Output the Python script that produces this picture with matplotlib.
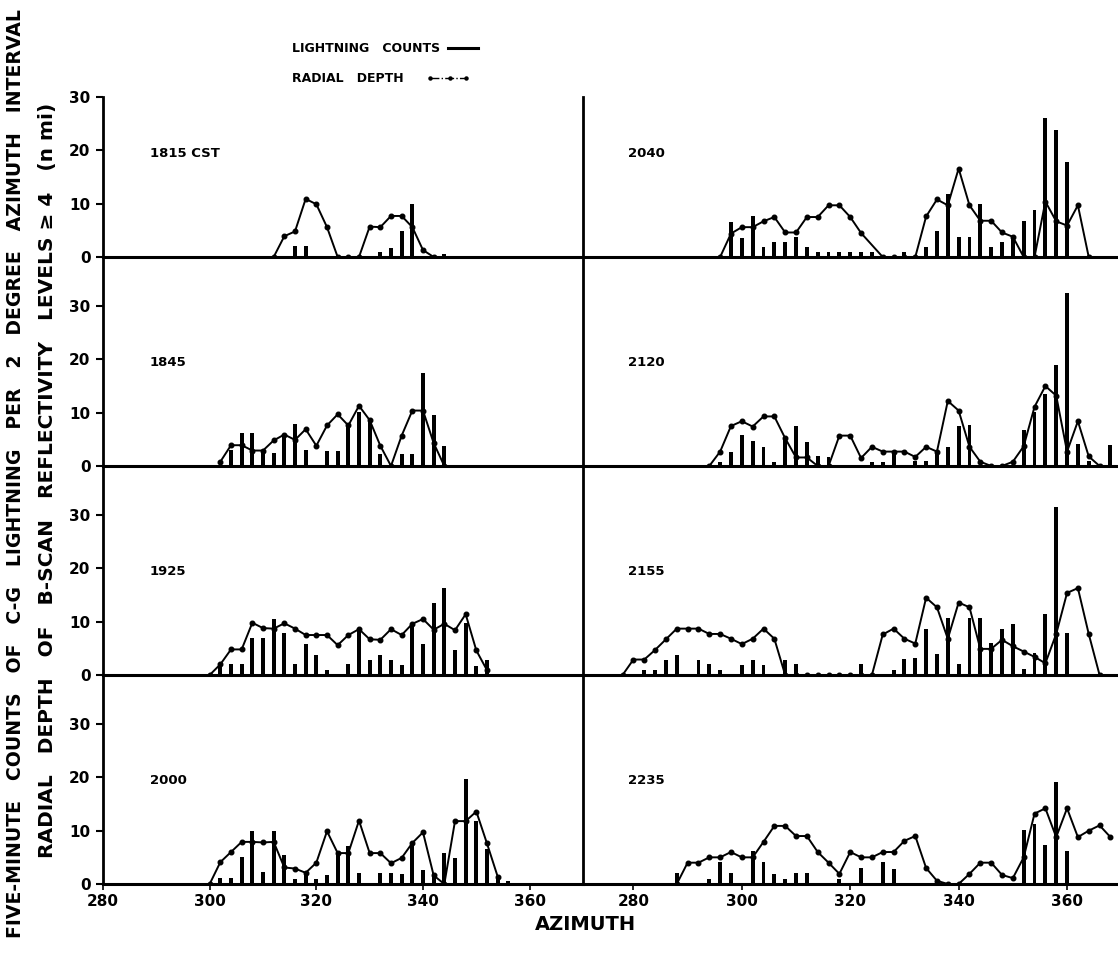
import matplotlib
matplotlib.use("Agg")
import matplotlib.pyplot as plt
from matplotlib.lines import Line2D

# ---- data (azimuth in degrees, depth in n mi, counts per 5 min) ----
# left column
depth_az_1815 = [312, 314, 316, 318, 320, 322, 324, 326, 328, 330, 332, 334, 336, 338, 340, 342]
depth_1815 = [0, 3.9, 4.8, 10.9, 9.9, 5.6, 0, 0, 0, 5.7, 5.6, 7.7, 7.7, 5.6, 1.3, 0]
bar_az_1815 = [316, 318, 332, 334, 336, 338, 344]
bar_1815 = [2.0, 2.0, 0.9, 1.7, 4.8, 10.0, 0.6]

depth_az_1845 = [302, 304, 306, 308, 310, 312, 314, 316, 318, 320, 322, 324, 326, 328, 330,
                 332, 334, 336, 338, 340, 342, 344]
depth_1845 = [0.8, 3.9, 3.9, 2.9, 2.9, 4.8, 5.9, 4.9, 6.9, 3.8, 7.6, 9.7, 7.6, 11.3, 8.6,
              3.8, 0, 5.7, 10.4, 10.4, 4.3, 0]
bar_az_1845 = [304, 306, 308, 310, 312, 314, 316, 318, 322, 324, 326, 328, 330, 332, 336,
               338, 340, 342, 344]
bar_1845 = [3.0, 6.1, 6.1, 2.8, 2.4, 5.8, 7.8, 3.0, 2.9, 2.9, 7.9, 10.2, 9.0, 2.2, 2.2,
            2.2, 17.4, 9.5, 3.8]

depth_az_1925 = [300, 302, 304, 306, 308, 310, 312, 314, 316, 318, 320, 322, 324, 326,
                 328, 330, 332, 334, 336, 338, 340, 342, 344, 346, 348, 350, 352]
depth_1925 = [0, 2.0, 4.8, 4.8, 9.8, 8.8, 8.7, 9.7, 8.7, 7.5, 7.5, 7.5, 5.6, 7.5,
              8.6, 6.7, 6.6, 8.6, 7.5, 9.6, 10.5, 8.5, 9.6, 8.4, 11.4, 4.6, 0.9]
bar_az_1925 = [302, 304, 306, 308, 310, 312, 314, 316, 318, 320, 322, 326, 328, 330,
               332, 334, 336, 338, 340, 342, 344, 346, 348, 350, 352]
bar_1925 = [2.1, 2.1, 2.1, 6.9, 6.9, 10.6, 7.9, 2.1, 5.8, 3.8, 0.9, 2.1, 8.4, 2.8,
            3.8, 2.8, 1.9, 9.7, 5.8, 13.6, 16.4, 4.7, 9.7, 1.7, 2.9]

depth_az_2000 = [300, 302, 304, 306, 308, 310, 312, 314, 316, 318, 320, 322, 324, 326,
                 328, 330, 332, 334, 336, 338, 340, 342, 344, 346, 348, 350, 352, 354]
depth_2000 = [0, 4.1, 6.0, 7.9, 7.9, 7.8, 7.9, 3.1, 2.9, 2.1, 4.0, 9.9, 5.8, 5.8,
              11.9, 5.8, 5.8, 3.9, 4.9, 7.7, 9.7, 1.6, 0, 11.8, 11.8, 13.6, 7.6, 1.4]
bar_az_2000 = [302, 304, 306, 308, 310, 312, 314, 316, 318, 320, 322, 324, 326, 328,
               332, 334, 336, 338, 340, 342, 344, 346, 348, 350, 352, 354, 356]
bar_2000 = [1.1, 1.1, 5.0, 10.0, 2.2, 9.9, 5.4, 0.9, 2.1, 0.9, 1.7, 5.8, 7.1, 2.0,
            2.0, 2.0, 1.9, 7.1, 2.7, 2.0, 5.8, 4.9, 19.7, 11.9, 6.5, 1.3, 0.6]

# right column
depth_az_2040 = [296, 298, 300, 302, 304, 306, 308, 310, 312, 314, 316, 318, 320, 322,
                 326, 328, 330, 332, 334, 336, 338, 340, 342, 344, 346, 348, 350, 352,
                 354, 356, 358, 360, 362, 364]
depth_2040 = [0, 4.4, 5.6, 5.6, 6.7, 7.5, 4.6, 4.6, 7.5, 7.5, 9.7, 9.7, 7.5, 4.5,
              0, 0, 0, 0, 7.6, 10.8, 9.7, 16.6, 9.7, 6.8, 6.8, 4.6, 3.8, 0,
              0, 10.4, 6.7, 5.9, 9.7, 0]
bar_az_2040 = [298, 300, 302, 304, 306, 308, 310, 312, 314, 316, 318, 320, 322, 324,
               330, 334, 336, 338, 340, 342, 344, 346, 348, 350, 352, 354, 356, 358, 360]
bar_2040 = [6.6, 3.5, 7.7, 1.8, 2.8, 2.8, 3.7, 1.8, 0.9, 0.9, 0.9, 0.9, 0.9, 0.9,
            0.9, 1.8, 4.8, 11.8, 3.8, 3.8, 10.0, 1.8, 2.8, 3.5, 6.8, 8.8, 26.0, 23.9, 17.8]

depth_az_2120 = [294, 296, 298, 300, 302, 304, 306, 308, 310, 312, 314, 316, 318, 320,
                 322, 324, 326, 328, 330, 332, 334, 336, 338, 340, 342, 344, 346, 348,
                 350, 352, 354, 356, 358, 360, 362, 364, 366]
depth_2120 = [0, 2.7, 7.5, 8.4, 7.4, 9.3, 9.3, 5.2, 1.6, 1.6, 0, 0, 5.7, 5.7,
              1.5, 3.6, 2.7, 2.7, 2.7, 1.7, 3.6, 2.7, 12.2, 10.4, 3.6, 0.8, 0, 0,
              0.8, 3.7, 11.1, 15.0, 13.2, 2.7, 8.4, 1.8, 0]
bar_az_2120 = [296, 298, 300, 302, 304, 306, 308, 310, 312, 314, 316, 324, 326, 328,
               332, 334, 336, 338, 340, 342, 352, 354, 356, 358, 360, 362, 364, 368]
bar_2120 = [0.8, 2.7, 5.9, 4.7, 3.6, 0.8, 5.2, 7.5, 4.5, 1.9, 1.6, 0.8, 0.8, 2.7,
            1.0, 1.0, 2.7, 3.6, 7.5, 7.7, 6.7, 10.1, 13.6, 18.9, 32.4, 4.1, 1.0, 3.9]

depth_az_2155 = [278, 280, 282, 284, 286, 288, 290, 292, 294, 296, 298, 300, 302, 304,
                 306, 308, 310, 312, 314, 316, 318, 320, 322, 324, 326, 328, 330, 332,
                 334, 336, 338, 340, 342, 344, 346, 348, 350, 352, 354, 356, 358, 360,
                 362, 364, 366]
depth_2155 = [0, 2.9, 2.9, 4.7, 6.7, 8.7, 8.7, 8.7, 7.7, 7.7, 6.8, 5.8, 6.8, 8.7,
              6.8, 0, 0, 0, 0, 0, 0, 0, 0, 0, 7.6, 8.7, 6.8, 5.9,
              14.5, 12.7, 6.8, 13.6, 12.7, 4.9, 4.9, 6.6, 5.4, 4.4, 3.4, 2.2, 7.7, 15.4,
              16.3, 7.7, 0]
bar_az_2155 = [282, 284, 286, 288, 292, 294, 296, 300, 302, 304, 308, 310, 322, 328,
               330, 332, 334, 336, 338, 340, 342, 344, 346, 348, 350, 352, 354, 356, 358, 360]
bar_2155 = [0.9, 0.9, 2.9, 3.8, 2.9, 2.0, 0.9, 1.8, 2.9, 1.8, 2.9, 2.0, 2.0, 1.0,
            3.0, 3.2, 8.7, 4.0, 10.7, 2.1, 10.7, 10.7, 6.0, 8.7, 9.6, 1.2, 4.1, 11.5, 31.6, 7.8]

depth_az_2235 = [288, 290, 292, 294, 296, 298, 300, 302, 304, 306, 308, 310, 312, 314,
                 316, 318, 320, 322, 324, 326, 328, 330, 332, 334, 336, 338, 340, 342,
                 344, 346, 348, 350, 352, 354, 356, 358, 360, 362, 364, 366, 368]
depth_2235 = [0, 4.0, 4.0, 5.0, 5.0, 6.0, 5.0, 5.0, 7.9, 10.9, 10.9, 9.0, 9.0, 6.0,
              4.0, 1.9, 6.0, 5.0, 5.0, 6.0, 6.0, 8.1, 9.0, 3.0, 0.6, 0, 0, 1.9,
              4.0, 4.0, 1.7, 1.1, 5.0, 13.2, 14.2, 8.8, 14.2, 8.8, 10.0, 11.0, 8.8]
bar_az_2235 = [288, 294, 296, 298, 302, 304, 306, 308, 310, 312, 318, 322, 326, 328,
               352, 354, 356, 358, 360]
bar_2235 = [2.1, 1.0, 4.1, 2.1, 6.1, 4.1, 1.9, 1.0, 2.1, 2.1, 1.0, 3.0, 4.1, 2.9,
            10.1, 11.2, 7.3, 19.2, 6.1]

left_labels = ["1815 CST", "1845", "1925", "2000"]
right_labels = ["2040", "2120", "2155", "2235"]
left_panels = [(depth_az_1815, depth_1815, bar_az_1815, bar_1815),
               (depth_az_1845, depth_1845, bar_az_1845, bar_1845),
               (depth_az_1925, depth_1925, bar_az_1925, bar_1925),
               (depth_az_2000, depth_2000, bar_az_2000, bar_2000)]
right_panels = [(depth_az_2040, depth_2040, bar_az_2040, bar_2040),
                (depth_az_2120, depth_2120, bar_az_2120, bar_2120),
                (depth_az_2155, depth_2155, bar_az_2155, bar_2155),
                (depth_az_2235, depth_2235, bar_az_2235, bar_2235)]
az_ticks = [280, 300, 320, 340, 360]
y_ticks = [0, 10, 20, 30]

# ---- layout (pixel positions of the scanned figure) ----
W, H = 1118, 965
fig = plt.figure(figsize=(W / 100, H / 100), dpi=100)
plt.rcParams["font.family"] = "DejaVu Sans"

zero_rows = [257, 466, 675, 884]
row_h = 209
ytop = row_h / 5.33


def make_ax(x0, x1, zero_px, xlim):
    ax = fig.add_axes([x0 / W, 1 - zero_px / H, (x1 - x0) / W, row_h / H])
    ax.set_xlim(*xlim)
    ax.set_ylim(0, ytop)
    ax.patch.set_alpha(0)
    for s in ["top", "right"]:
        ax.spines[s].set_visible(False)
    ax.spines["left"].set_linewidth(2.0)
    ax.spines["bottom"].set_linewidth(2.2)
    return ax


def draw(ax, panel, label, label_x):
    daz, dep, baz, cnt = panel
    ax.bar(baz, cnt, width=0.72, color="black", zorder=3)
    ax.plot(daz, dep, "-", color="black", lw=1.4, marker="o", ms=3.3, zorder=4)
    ax.text(label_x, 19.5, label, fontsize=9.5, fontweight="bold", va="center")


for i in range(4):
    axl = make_ax(103, 583, zero_rows[i], (280, 370))
    axr = make_ax(583, W, zero_rows[i], (270.7, 369.4))
    draw(axl, left_panels[i], left_labels[i], 288.8)
    draw(axr, right_panels[i], right_labels[i], 279.0)

    axl.set_yticks(y_ticks)
    axl.set_yticklabels([str(t) for t in y_ticks], fontsize=11, fontweight="bold")
    axl.tick_params(axis="y", direction="out", length=5, width=1.5, pad=4)
    axr.set_yticks([])
    if i == 0:
        axl.spines["left"].set_bounds(0, 30)
        axr.spines["left"].set_bounds(0, 30)
    for ax in (axl, axr):
        if i == 3:
            ax.set_xticks(az_ticks)
            ax.set_xticklabels([str(t) for t in az_ticks], fontsize=11, fontweight="bold")
            ax.tick_params(axis="x", direction="out", length=4, width=1.2, pad=3)
        else:
            ax.set_xticks([])

# legend
fig.text(292 / W, 1 - 48 / H, "LIGHTNING   COUNTS", fontsize=9, fontweight="bold", va="center")
fig.add_artist(Line2D([448 / W, 478 / W], [1 - 48 / H, 1 - 48 / H], color="black", lw=2.2))
fig.text(292 / W, 1 - 78 / H, "RADIAL   DEPTH", fontsize=9, fontweight="bold", va="center")
fig.add_artist(Line2D([430 / W, 450 / W, 466 / W], [1 - 78 / H] * 3, color="black",
                      lw=1.0, marker="o", ms=2.2, linestyle="-."))

# axis titles
fig.text(585 / W, 1 - 925 / H, "AZIMUTH", fontsize=14, fontweight="bold", ha="center", va="center")
fig.text(16 / W, 1 - 474 / H,
         "FIVE-MINUTE   COUNTS   OF   C-G   LIGHTNING   PER   2   DEGREE   AZIMUTH   INTERVAL",
         rotation=90, fontsize=13.6, fontweight="bold", ha="center", va="center")
fig.text(48 / W, 1 - 480 / H,
         "RADIAL   DEPTH   OF   B-SCAN   REFLECTIVITY   LEVELS \u2265 4   (n mi)",
         rotation=90, fontsize=14.5, fontweight="bold", ha="center", va="center")

fig.savefig("out.png", dpi=100)
